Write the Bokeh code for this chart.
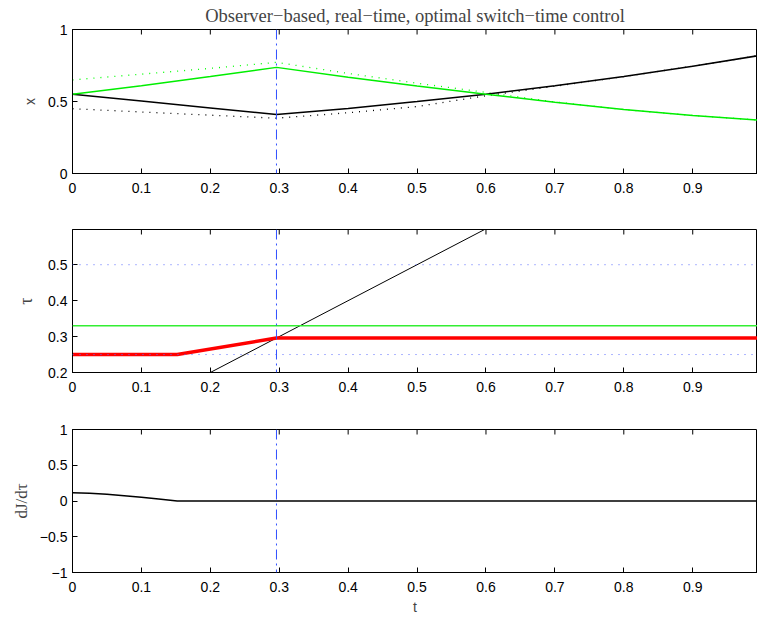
import math
from bokeh.plotting import figure
from bokeh.layouts import column
from bokeh.models import Range1d, FixedTicker, Span
from bokeh.embed import file_html
from bokeh.resources import INLINE

# ---------------- data ----------------
t_switch = 0.296
x_ticks = [0, 0.1, 0.2, 0.3, 0.4, 0.5, 0.6, 0.7, 0.8, 0.9]

# panel 1: states (solid) and observer estimates (dotted)
t_x = [0, 0.1, 0.2, 0.296, 0.4, 0.5, 0.6, 0.7, 0.8, 0.9, 1.0]
x1 = [0.55, 0.503, 0.455, 0.41, 0.452, 0.50, 0.55, 0.61, 0.674, 0.745, 0.822]
x2 = [0.55, 0.61, 0.674, 0.737, 0.668, 0.608, 0.55, 0.495, 0.444, 0.403, 0.37]
xh1 = [0.45, 0.427, 0.405, 0.384, 0.422, 0.465, 0.54, 0.606, 0.673, 0.745, 0.822]
xh2 = [0.65, 0.69, 0.73, 0.772, 0.695, 0.627, 0.563, 0.497, 0.444, 0.403, 0.37]
x_yticks = [0, 0.5, 1]

# panel 2: switch-time estimate
t_tau = [0, 0.152, 0.296, 1.0]
tau_est = [0.25, 0.25, 0.296, 0.296]
tau_opt = 0.33
tau_lo = 0.25
tau_hi = 0.5
diag_t = [0, 1]
diag_tau = [0, 1]
tau_yticks = [0.2, 0.3, 0.4, 0.5]

# panel 3: gradient dJ/dtau
t_dj = [0, 0.025, 0.05, 0.075, 0.1, 0.125, 0.152, 0.3, 1.0]
dj = [0.117, 0.11, 0.094, 0.075, 0.052, 0.027, 0.0, 0.0, 0.0]
dj_yticks = [-1, -0.5, 0, 0.5, 1]

SANS = "Liberation Sans"
SERIF = "Liberation Serif"
W = 757


def make_fig(height, yr, yticks, ylabel, ylabel_font, ylabel_size, ylabel_standoff,
             top, bottom, xlabel=None, title=None):
    kw = {}
    if title is not None:
        kw["title"] = title
    p = figure(width=W, height=height, output_backend="svg", toolbar_location=None,
               x_range=Range1d(0, 0.994), y_range=Range1d(*yr),
               min_border_left=72, min_border_right=0, min_border_top=top,
               min_border_bottom=bottom, **kw)
    p.grid.visible = False
    p.outline_line_color = "black"
    p.background_fill_color = "white"
    p.border_fill_color = "white"
    if title is not None:
        p.title.text_font = SERIF
        p.title.text_font_size = "18.5px"
        p.title.text_font_style = "normal"
        p.title.align = "center"
        p.title.standoff = 7
        p.title.offset = 0
    for ax in (p.xaxis[0], p.yaxis[0]):
        ax.major_tick_in = 5
        ax.major_tick_out = 0
        ax.minor_tick_line_color = None
        ax.major_label_text_font = SANS
        ax.major_label_text_font_size = "14px"
        ax.major_label_text_color = "black"
        ax.axis_line_color = "black"
        ax.major_tick_line_color = "black"
    p.xaxis[0].ticker = FixedTicker(ticks=x_ticks)
    p.xaxis[0].major_label_standoff = 9
    p.yaxis[0].ticker = FixedTicker(ticks=yticks)
    p.yaxis[0].major_label_standoff = 5
    p.yaxis[0].major_label_overrides = {v: ("\u2212" + str(abs(v)) if v < 0 else str(v)) for v in yticks}
    p.yaxis[0].axis_label = ylabel
    p.yaxis[0].axis_label_text_font = ylabel_font
    p.yaxis[0].axis_label_text_font_size = ylabel_size
    p.yaxis[0].axis_label_text_font_style = "normal"
    p.yaxis[0].axis_label_standoff = ylabel_standoff
    if xlabel:
        p.xaxis[0].axis_label = xlabel
        p.xaxis[0].axis_label_text_font = SANS
        p.xaxis[0].axis_label_text_font_size = "14px"
        p.xaxis[0].axis_label_text_font_style = "normal"
        p.xaxis[0].axis_label_standoff = 4
    # inward tick marks along the top edge of the box (clipped to the frame)
    p.scatter(x_ticks, [yr[1]] * len(x_ticks), marker="dash", angle=math.pi / 2,
              size=10, line_color="black", line_width=1)
    return p


# ---- panel 1
p1 = make_fig(201, (0, 1), x_yticks, "x", SANS, "14px", 7, 29, 28,
              title="Observer\u2212based, real\u2212time, optimal switch\u2212time control")
p1.line(t_x, xh1, line_color="black", line_width=1.3, line_dash="1 6")
p1.line(t_x, xh2, line_color="#00ff00", line_width=1.3, line_dash="1 6")
p1.line(t_x, x1, line_color="black", line_width=1.5)
p1.line(t_x, x2, line_color="#00ee00", line_width=1.5)
p1.add_layout(Span(location=t_switch, dimension="height", line_color="#3050ff",
                   line_width=1, line_dash="10 4 2 4"))

# ---- panel 2
p2 = make_fig(200, (0.2, 0.598), tau_yticks, "\u03c4", SERIF, "18px", 9, 28, 29)
p2.add_layout(Span(location=tau_hi, dimension="width", line_color="#5a6aff",
                   line_width=1, line_dash="1 6"))
p2.add_layout(Span(location=tau_lo, dimension="width", line_color="#5a6aff",
                   line_width=1, line_dash="1 6"))
p2.add_layout(Span(location=tau_opt, dimension="width", line_color="#33ee33", line_width=1.5))
p2.line(diag_t, diag_tau, line_color="black", line_width=1)
p2.line(t_tau, tau_est, line_color="red", line_width=3.5)
p2.add_layout(Span(location=t_switch, dimension="height", line_color="#3050ff",
                   line_width=1, line_dash="10 4 2 4"))

# ---- panel 3
p3 = make_fig(216, (-1, 1), dj_yticks, "dJ/d\u03c4", SERIF, "17px", 6, 28, 45, xlabel="t")
p3.line(t_dj, dj, line_color="black", line_width=1.5)
p3.add_layout(Span(location=t_switch, dimension="height", line_color="#3050ff",
                   line_width=1, line_dash="10 4 2 4"))

layout = column(p1, p2, p3, spacing=0)
open("out.html", "w").write(file_html(layout, INLINE))
